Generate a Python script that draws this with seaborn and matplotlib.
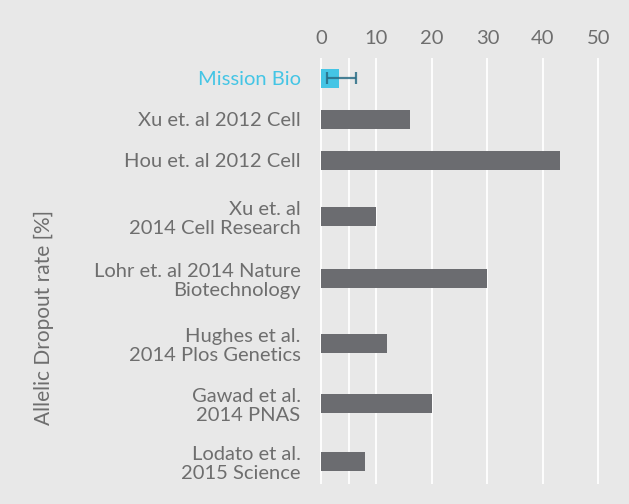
import numpy as np
import pandas as pd
import seaborn as sns
import matplotlib.pyplot as plt

# data
studies = ["Mission Bio", "Xu et. al 2012 Cell", "Hou et. al 2012 Cell",
           "Xu et. al\n2014 Cell Research", "Lohr et. al 2014 Nature\nBiotechnology",
           "Hughes et al.\n2014 Plos Genetics", "Gawad et al.\n2014 PNAS",
           "Lodato et al.\n2015 Science"]
dropout = [3.3, 16, 43, 10, 30, 12, 20, 8]
mission_lo = 1.1    # error bar range for Mission Bio
mission_hi = 6.4
xticks = [0, 10, 20, 30, 40, 50]

# layout: row centres (two-line labels get more room)
row_pos = [0, 1, 2, 3.37, 4.88, 6.46, 7.93, 9.35]

bg = "#e8e8e8"
grey_txt = "#6e6e6e"
cyan = "#44c5e5"
bar_grey = "#6b6c70"

sns.set_theme(style="white")
plt.rcParams["font.family"] = ["Lato", "DejaVu Sans"]
fs = 14.5

df = pd.DataFrame({"study": studies, "dropout": dropout, "pos": row_pos})
pal = {s: (cyan if s == "Mission Bio" else bar_grey) for s in studies}

fig = plt.figure(figsize=(6.29, 5.04), dpi=100, facecolor=bg)
ax = fig.add_axes([320 / 629, 1 - 484 / 504, 309 / 629, 426 / 504])
ax.set_facecolor(bg)

sns.barplot(data=df, x="dropout", y="pos", hue="study", palette=pal,
            orient="y", native_scale=True, dodge=False, legend=False,
            width=0.46, saturation=1, linewidth=0, ax=ax)

# error bar on Mission Bio
mb = dropout[0]
ax.errorbar(mb, row_pos[0], xerr=[[mb - mission_lo], [mission_hi - mb]],
            fmt="none", ecolor="#2a6d86", elinewidth=1.6, capsize=4,
            capthick=1.6, alpha=0.85, zorder=5)

ax.set_xlim(-0.15, 55.5)
ax.set_ylim(9.9, -0.5)

ax.xaxis.tick_top()
ax.set_xticks(xticks)
ax.set_xticks([5], minor=True)
ax.grid(axis="x", which="both", color="white", linewidth=1.3)
ax.set_axisbelow(True)
ax.tick_params(axis="x", which="both", length=0, pad=8, labelsize=fs,
               labelcolor=grey_txt)

ax.set_yticks(row_pos)
ax.set_yticklabels(studies, linespacing=1.15)
ax.tick_params(axis="y", length=0, pad=14, labelsize=fs, labelcolor=grey_txt)
ax.get_yticklabels()[0].set_color(cyan)

ax.set_xlabel("")
ax.set_ylabel("Allelic Dropout rate [%]", fontsize=15, color=grey_txt)
ax.yaxis.set_label_coords(-0.86, 0.39)

for s in ax.spines.values():
    s.set_visible(False)

fig.savefig("out.png", dpi=100, facecolor=bg)
